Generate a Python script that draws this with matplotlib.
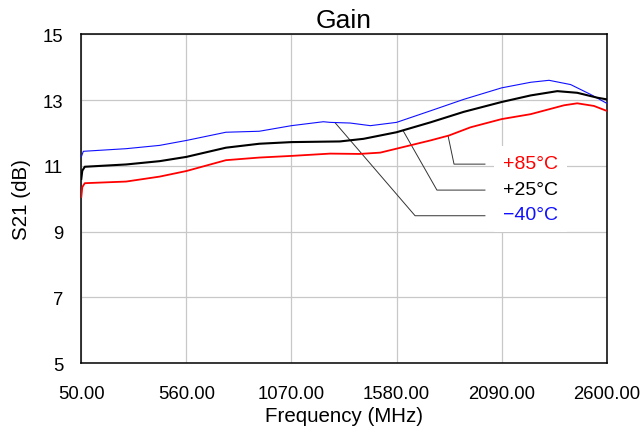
import numpy as np
import matplotlib
matplotlib.use("Agg")
import matplotlib.pyplot as plt

plt.rcParams["font.family"] = ["Liberation Sans", "DejaVu Sans"]

# -40 C (blue)
freq_m40 = [50, 60, 268, 430, 560, 752, 914, 1070, 1225, 1258, 1355, 1453,
            1580, 1744, 1906, 2090, 2231, 2320, 2425, 2522, 2600]
gain_m40 = [11.27, 11.44, 11.52, 11.62, 11.77, 12.02, 12.05, 12.22, 12.34, 12.32,
            12.30, 12.22, 12.32, 12.67, 13.02, 13.37, 13.54, 13.60, 13.47, 13.17, 12.90]

# +25 C (black)
freq_p25 = [50, 55, 67, 268, 430, 560, 752, 914, 1070, 1305, 1420, 1580,
            1744, 1906, 2090, 2231, 2360, 2457, 2555, 2600]
gain_p25 = [10.6, 10.85, 10.97, 11.04, 11.14, 11.27, 11.55, 11.67, 11.72, 11.74,
            11.82, 12.02, 12.32, 12.64, 12.94, 13.14, 13.27, 13.22, 13.07, 13.02]

# +85 C (red)
freq_p85 = [50, 55, 67, 268, 430, 560, 752, 914, 1070, 1258, 1400, 1501, 1580,
            1744, 1834, 1939, 2090, 2231, 2393, 2457, 2538, 2600]
gain_p85 = [10.05, 10.35, 10.47, 10.52, 10.67, 10.84, 11.17, 11.25, 11.30, 11.37,
            11.36, 11.40, 11.52, 11.77, 11.92, 12.17, 12.42, 12.57, 12.84, 12.90,
            12.82, 12.67]

xticks = [50, 560, 1070, 1580, 2090, 2600]
yticks = [5, 7, 9, 11, 13, 15]

fig = plt.figure(figsize=(6.44, 4.35), dpi=100)
ax = fig.add_axes([0.1262, 0.1632, 0.8159, 0.7557])

ax.plot(freq_m40, gain_m40, color="#1010ff", lw=0.8, zorder=3)
ax.plot(freq_p25, gain_p25, color="black", lw=1.5, zorder=4)
ax.plot(freq_p85, gain_p85, color="#ff0000", lw=1.3, zorder=3)

ax.set_xlim(50, 2600)
ax.set_ylim(5, 15)
ax.set_xticks(xticks)
ax.set_xticklabels([f"{t:.2f}" for t in xticks])
ax.set_yticks(yticks)
ax.grid(True, color="#c8c8c8", lw=0.9)
ax.set_axisbelow(True)
ax.tick_params(length=0, labelsize=13.3)
ax.tick_params(axis="y", pad=13)
ax.tick_params(axis="x", pad=16)
for s in ax.spines.values():
    s.set_linewidth(1.1)

ax.set_title("Gain", fontsize=19, pad=5)
ax.set_xlabel("Frequency (MHz)", fontsize=14.8, labelpad=3)
ax.set_ylabel("S21 (dB)", fontsize=14.8, labelpad=8)

# callouts: (label, colour, curve, anchor freq, elbow freq, elbow level)
callouts = [
    ("+85°C", "#ff0000", (freq_p85, gain_p85), 1830, 1859, 11.05),
    ("+25°C", "black", (freq_p25, gain_p25), 1611, 1776, 10.26),
    ("\u221240°C", "#1010ff", (freq_m40, gain_m40), 1281, 1670, 9.48),
]
for label, col, (fx, gy), fa, fe, ye in callouts:
    ya = np.interp(fa, fx, gy)
    ax.plot([fa, fe, 2009], [ya, ye, ye], color="#333333", lw=0.7, zorder=2)
    ax.text(2097, ye + 0.03, label, color=col, fontsize=14, ha="left", va="center",
            zorder=5, bbox=dict(boxstyle="square,pad=0.45", fc="white", ec="none"))

fig.savefig("out.png", dpi=100)
